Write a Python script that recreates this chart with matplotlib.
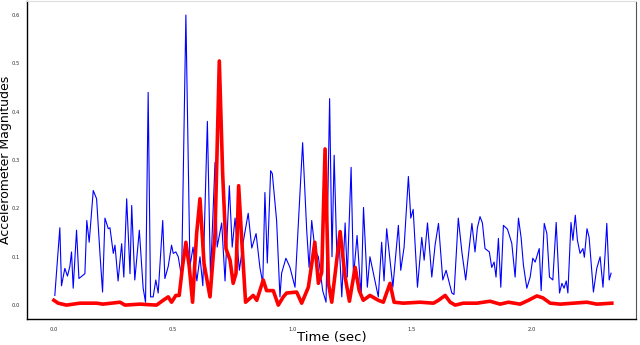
import numpy as np
import matplotlib
matplotlib.use("Agg")
import matplotlib.pyplot as plt

# Raw accelerometer magnitude (blue)
raw_t = [0.004, 0.025, 0.032, 0.046, 0.057, 0.067, 0.074, 0.081, 0.095, 0.105,
         0.130, 0.138, 0.148, 0.165, 0.179, 0.193, 0.204, 0.214, 0.228, 0.235,
         0.249, 0.256, 0.269, 0.284, 0.293, 0.305, 0.319, 0.326, 0.339, 0.358,
         0.374, 0.384, 0.395, 0.405, 0.416, 0.427, 0.437, 0.456, 0.465, 0.479,
         0.493, 0.500, 0.511, 0.521, 0.535, 0.553, 0.570, 0.583, 0.599, 0.612,
         0.624, 0.643, 0.656, 0.675, 0.684, 0.703, 0.717, 0.735, 0.747, 0.759,
         0.777, 0.793, 0.814, 0.829, 0.847, 0.863, 0.875, 0.884, 0.894, 0.908,
         0.915, 0.933, 0.947, 0.954, 0.972, 0.989, 1.010, 1.042, 1.059, 1.069,
         1.080, 1.094, 1.108, 1.126, 1.140, 1.155, 1.165, 1.174, 1.186, 1.194,
         1.206, 1.220, 1.229, 1.245, 1.255, 1.270, 1.287, 1.297, 1.313, 1.324,
         1.359, 1.373, 1.383, 1.394, 1.408, 1.420, 1.443, 1.453, 1.467, 1.485,
         1.495, 1.505, 1.523, 1.541, 1.551, 1.565, 1.583, 1.597, 1.611, 1.629,
         1.643, 1.667, 1.676, 1.694, 1.709, 1.725, 1.743, 1.751, 1.764, 1.774,
         1.785, 1.795, 1.806, 1.824, 1.834, 1.844, 1.852, 1.862, 1.872, 1.883,
         1.900, 1.918, 1.932, 1.946, 1.957, 1.967, 1.981, 1.995, 2.006, 2.016,
         2.033, 2.041, 2.054, 2.065, 2.076, 2.090, 2.104, 2.118, 2.128, 2.137,
         2.146, 2.153, 2.166, 2.174, 2.184, 2.193, 2.204, 2.216, 2.222, 2.233,
         2.242, 2.260, 2.274, 2.288, 2.300, 2.309, 2.316, 2.326, 2.334]
raw_v = [0.020, 0.160, 0.040, 0.076, 0.060, 0.080, 0.110, 0.035, 0.155, 0.055,
         0.065, 0.175, 0.130, 0.237, 0.220, 0.107, 0.027, 0.180, 0.158, 0.160,
         0.107, 0.124, 0.050, 0.127, 0.058, 0.220, 0.065, 0.206, 0.052, 0.155,
         0.035, 0.006, 0.440, 0.017, 0.017, 0.052, 0.025, 0.175, 0.055, 0.080,
         0.124, 0.107, 0.110, 0.100, 0.058, 0.600, 0.080, 0.120, 0.050, 0.100,
         0.040, 0.380, 0.058, 0.295, 0.120, 0.170, 0.050, 0.247, 0.120, 0.180,
         0.072, 0.130, 0.190, 0.118, 0.148, 0.078, 0.045, 0.233, 0.087, 0.278,
         0.272, 0.175, 0.017, 0.066, 0.097, 0.078, 0.037, 0.336, 0.155, 0.078,
         0.175, 0.113, 0.100, 0.030, 0.006, 0.427, 0.100, 0.310, 0.090, 0.140,
         0.017, 0.170, 0.058, 0.285, 0.058, 0.144, 0.017, 0.202, 0.037, 0.100,
         0.017, 0.130, 0.050, 0.158, 0.093, 0.037, 0.165, 0.072, 0.120, 0.266,
         0.180, 0.198, 0.037, 0.140, 0.093, 0.170, 0.058, 0.125, 0.169, 0.052,
         0.072, 0.025, 0.022, 0.180, 0.110, 0.052, 0.134, 0.169, 0.110, 0.160,
         0.183, 0.170, 0.117, 0.110, 0.078, 0.089, 0.058, 0.138, 0.037, 0.165,
         0.157, 0.128, 0.058, 0.180, 0.140, 0.082, 0.035, 0.058, 0.097, 0.089,
         0.117, 0.030, 0.169, 0.148, 0.058, 0.052, 0.171, 0.025, 0.045, 0.035,
         0.050, 0.025, 0.171, 0.134, 0.186, 0.134, 0.107, 0.117, 0.099, 0.158,
         0.140, 0.027, 0.076, 0.100, 0.037, 0.107, 0.169, 0.052, 0.066]

# Filtered magnitude (red)
filt_t = [0.000, 0.018, 0.053, 0.109, 0.179, 0.205, 0.277, 0.298, 0.360, 0.430,
          0.458, 0.479, 0.493, 0.511, 0.525, 0.539, 0.553, 0.567, 0.581, 0.598,
          0.612, 0.629, 0.654, 0.675, 0.693, 0.707, 0.721, 0.738, 0.751, 0.763,
          0.774, 0.787, 0.803, 0.835, 0.850, 0.877, 0.891, 0.919, 0.940, 0.961,
          0.975, 1.017, 1.038, 1.066, 1.093, 1.108, 1.122, 1.136, 1.150, 1.164,
          1.199, 1.220, 1.238, 1.262, 1.279, 1.296, 1.324, 1.359, 1.380, 1.408,
          1.425, 1.464, 1.534, 1.590, 1.611, 1.639, 1.660, 1.681, 1.715, 1.772,
          1.827, 1.869, 1.904, 1.953, 1.988, 2.023, 2.048, 2.079, 2.121, 2.176,
          2.233, 2.274, 2.337]
filt_v = [0.010, 0.004, 0.000, 0.004, 0.004, 0.002, 0.006, 0.000, 0.002, 0.000,
          0.010, 0.017, 0.006, 0.020, 0.020, 0.080, 0.130, 0.080, 0.006, 0.148,
          0.220, 0.086, 0.017, 0.148, 0.505, 0.272, 0.117, 0.093, 0.045, 0.066,
          0.247, 0.134, 0.006, 0.020, 0.010, 0.052, 0.030, 0.030, 0.000, 0.017,
          0.025, 0.027, 0.004, 0.037, 0.130, 0.045, 0.068, 0.323, 0.045, 0.006,
          0.152, 0.058, 0.008, 0.078, 0.030, 0.010, 0.020, 0.010, 0.006, 0.045,
          0.006, 0.004, 0.006, 0.004, 0.010, 0.020, 0.006, 0.000, 0.004, 0.004,
          0.008, 0.002, 0.006, 0.002, 0.010, 0.019, 0.015, 0.004, 0.002, 0.004,
          0.006, 0.002, 0.004]

x_ticks = [0.0, 0.5, 1.0, 1.5, 2.0]
y_ticks = [0.0, 0.1, 0.2, 0.3, 0.4, 0.5, 0.6]

fig = plt.figure(figsize=(6.4, 3.45), dpi=100)
ax = fig.add_axes([0.042, 0.075, 0.952, 0.922])

ax.plot(raw_t, raw_v, color="blue", linewidth=0.8)
ax.plot(filt_t, filt_v, color="red", linewidth=2.6, solid_joinstyle="round")

ax.set_xlim(-0.113, 2.439)
ax.set_ylim(-0.029, 0.629)
ax.set_xticks(x_ticks)
ax.set_yticks(y_ticks)
ax.set_xticklabels([f"{v:.1f}" for v in x_ticks])
ax.set_yticklabels([f"{v:.1f}" for v in y_ticks])
ax.tick_params(axis="both", length=0, labelsize=3.8, labelcolor="#333333")
ax.tick_params(axis="x", pad=6)
ax.tick_params(axis="y", pad=5)

for side in ["left", "bottom"]:
    ax.spines[side].set_color("black")
    ax.spines[side].set_linewidth(1.0)
ax.spines["top"].set_color("#dddddd")
ax.spines["right"].set_color("#555555")
ax.spines["right"].set_linewidth(0.8)

ax.set_xlabel("Time (sec)", fontsize=9.5, va="center")
ax.set_ylabel("Accelerometer Magnitudes", fontsize=9, va="center")
ax.xaxis.set_label_coords(0.5, -0.057)
ax.yaxis.set_label_coords(-0.035, 0.5)

fig.savefig("out.png", dpi=100)
